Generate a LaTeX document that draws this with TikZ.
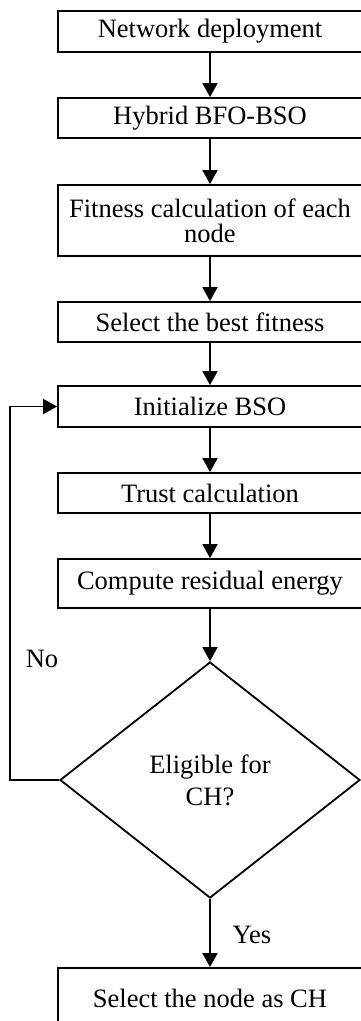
\documentclass[tikz,border=0pt]{standalone}
\usepackage{fontspec}
\setmainfont{Liberation Serif}
\usetikzlibrary{arrows.meta,shapes.geometric}
\begin{document}
\begin{tikzpicture}[x=1pt,y=-1pt,
  line width=1.8pt,
  txt/.style={font=\fontsize{26.5}{25}\selectfont},
  stepbox/.style={draw,rectangle,minimum width=304pt,inner sep=0pt,txt,align=center},
  decision/.style={draw,diamond,minimum width=300pt,minimum height=236pt,inner sep=0pt,align=center,font=\fontsize{26.5}{32}\selectfont},
  flow/.style={-{Triangle[length=14pt,width=15pt]}}]
\useasboundingbox (0,0) rectangle (360,1021);
\node[stepbox,minimum height=41pt] (n1) at (210,31.5) {Network deployment};
\node[stepbox,minimum height=40pt] (n2) at (210,118) {Hybrid BFO-BSO};
\node[stepbox,minimum height=71pt] (n3) at (210,220.5) {Fitness calculation of each\\node};
\node[stepbox,minimum height=40pt] (n4) at (210,322) {Select the best fitness};
\node[stepbox,minimum height=41pt] (n5) at (210,406.5) {Initialize BSO};
\node[stepbox,minimum height=40pt] (n6) at (210,493) {Trust calculation};
\node[stepbox,minimum height=49pt] (n7) at (210,583.5) {Compute residual energy};
\node[decision] (d) at (210,780) {Eligible for\\CH?};
\node[stepbox,minimum height=60pt] (n8) at (210,998) {Select the node as CH};
\coordinate (fb) at (10,780);
\draw[flow] (n1) -- (n2);
\draw[flow] (n2) -- (n3);
\draw[flow] (n3) -- (n4);
\draw[flow] (n4) -- (n5);
\draw[flow] (n5) -- (n6);
\draw[flow] (n6) -- (n7);
\draw[flow] (n7.south) -- (d.north);
\draw[flow] (d.south) -- (n8.north);
\draw[flow] (d.west) -- (fb) |- (n5.west);
\node[txt] (no) at (42,659) {No};
\node[txt] (yes) at (252,935) {Yes};
\end{tikzpicture}
\end{document}
